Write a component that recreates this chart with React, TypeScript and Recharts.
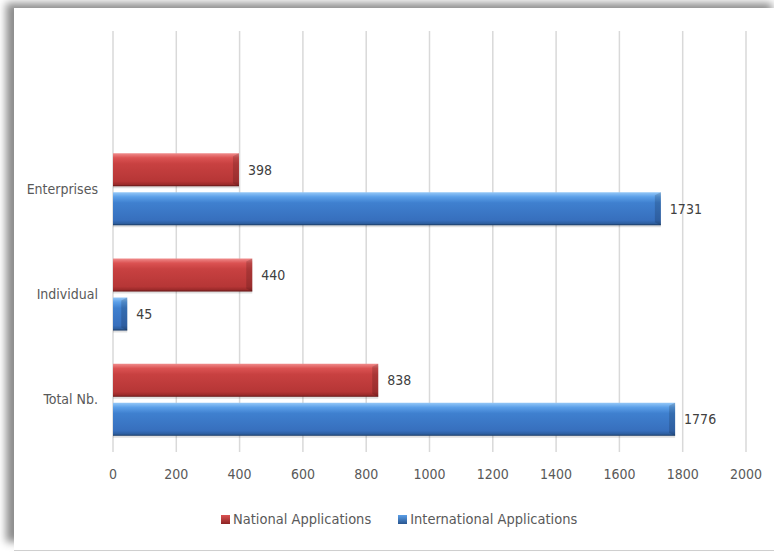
import { BarChart, Bar, XAxis, YAxis, CartesianGrid, LabelList } from "recharts";

// categories top to bottom; the first row is an empty slot Excel left above the bars
const categories = ["", "Enterprises", "Individual", "Total Nb."];
const nationalApps = [null, 398, 440, 838];
const internationalApps = [null, 1731, 45, 1776];
const xTicks = [0, 200, 400, 600, 800, 1000, 1200, 1400, 1600, 1800, 2000];

const series = [
  { key: "national", name: "National Applications", grad: "gradRed", stops: ["#f08c8c", "#db5252", "#c84141", "#b63636", "#8c2424"] },
  { key: "international", name: "International Applications", grad: "gradBlue", stops: ["#94c8f8", "#5b9fe8", "#3f80cf", "#376fbd", "#28558f"] },
];

const data = categories.map((name, i) => ({
  name,
  national: nationalApps[i],
  international: internationalApps[i],
}));

const FONT = "'Liberation Sans Narrow', 'DejaVu Sans Condensed', sans-serif";

function Bar3D(props: any) {
  const { x, y, width, height, grad } = props;
  if (!width || width <= 0) return null;
  const cap = Math.min(6, width / 2);
  return (
    <g>
      <rect x={x} y={y + 2} width={width} height={height} fill="rgba(0,0,0,0.12)" />
      <rect x={x} y={y} width={width} height={height} fill={`url(#${grad})`} />
      <polygon
        points={`${x + width - cap},${y + 3} ${x + width},${y} ${x + width},${y + height} ${x + width - cap},${y + height - 3}`}
        fill="rgba(0,0,0,0.15)"
      />
      <line x1={x} y1={y + height - 0.5} x2={x + width} y2={y + height - 0.5} stroke="rgba(0,0,0,0.25)" />
    </g>
  );
}

export default function App() {
  return (
    <div style={{ position: "absolute", left: 0, top: 0, width: 774, height: 553, background: "#fff", overflow: "hidden" }}>
      <div
        style={{
          position: "absolute",
          left: 14,
          top: 8,
          width: 770,
          height: 542,
          background: "#fff",
          borderBottom: "1px solid #cfcfcf",
          boxShadow: "-10px -7px 8px -2px rgba(0,0,0,0.45)",
        }}
      />
      <div style={{ position: "absolute", left: 0, top: 0 }}>
        <BarChart
          width={774}
          height={553}
          data={data}
          layout="vertical"
          margin={{ top: 31, right: 28, left: 13, bottom: 71 }}
          barSize={33}
          barGap={6}
        >
          <defs>
            {series.map((s) => (
              <linearGradient key={s.grad} id={s.grad} x1="0" y1="0" x2="0" y2="1">
                <stop offset="0%" stopColor={s.stops[0]} />
                <stop offset="14%" stopColor={s.stops[1]} />
                <stop offset="32%" stopColor={s.stops[2]} />
                <stop offset="85%" stopColor={s.stops[3]} />
                <stop offset="100%" stopColor={s.stops[4]} />
              </linearGradient>
            ))}
          </defs>
          <CartesianGrid horizontal={false} stroke="#d9d9d9" strokeWidth={1.5} />
          <XAxis
            type="number"
            domain={[0, 2000]}
            ticks={xTicks}
            axisLine={false}
            tickLine={false}
            tickMargin={11}
            tick={{ fill: "#595959", fontSize: 14, fontFamily: FONT }}
          />
          <YAxis
            type="category"
            dataKey="name"
            width={100}
            axisLine={false}
            tickLine={false}
            tickMargin={9}
            tick={{ fill: "#595959", fontSize: 14, fontFamily: FONT }}
          />
          {series.map((s) => (
            <Bar
              key={s.key}
              dataKey={s.key}
              name={s.name}
              fill={s.stops[2]}
              isAnimationActive={false}
              shape={(p: any) => <Bar3D {...p} grad={s.grad} />}
            >
              <LabelList
                dataKey={s.key}
                position="right"
                offset={9}
                fill="#404040"
                fontSize={14}
                fontFamily={FONT}
              />
            </Bar>
          ))}
        </BarChart>
      </div>
      <div
        style={{
          position: "absolute",
          left: 221,
          top: 511,
          display: "flex",
          alignItems: "center",
          gap: 27,
          fontFamily: FONT,
          fontSize: 14.5,
          color: "#595959",
        }}
      >
        {series.map((s) => (
          <div key={s.key} style={{ display: "flex", alignItems: "center", gap: 3 }}>
            <span
              style={{
                display: "inline-block",
                width: 9,
                height: 9,
                background: `linear-gradient(${s.stops[1]}, ${s.stops[4]})`,
              }}
            />
            <span>{s.name}</span>
          </div>
        ))}
      </div>
    </div>
  );
}
